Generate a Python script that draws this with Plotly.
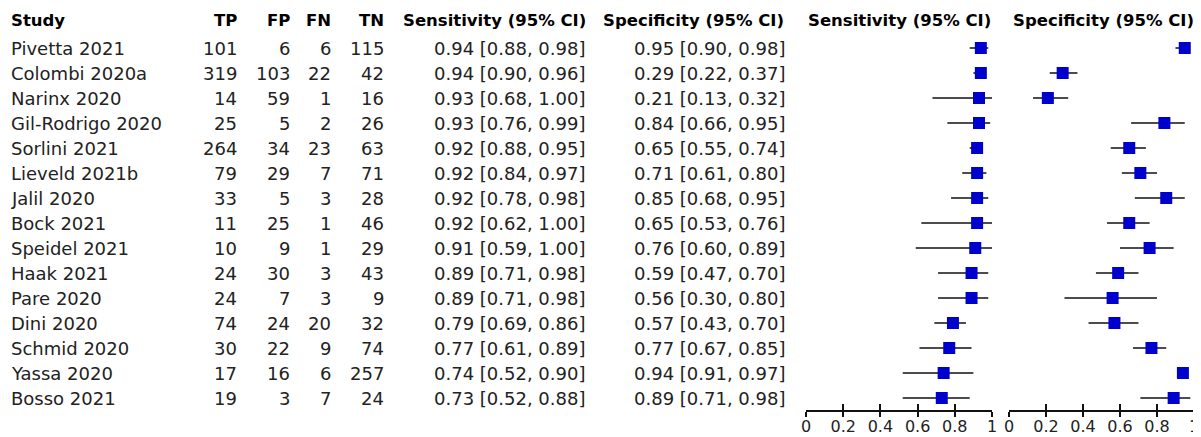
import plotly.graph_objects as go

studies = ["Pivetta 2021", "Colombi 2020a", "Narinx 2020", "Gil-Rodrigo 2020", "Sorlini 2021",
           "Lieveld 2021b", "Jalil 2020", "Bock 2021", "Speidel 2021", "Haak 2021",
           "Pare 2020", "Dini 2020", "Schmid 2020", "Yassa 2020", "Bosso 2021"]
tp = [101, 319, 14, 25, 264, 79, 33, 11, 10, 24, 24, 74, 30, 17, 19]
fp = [6, 103, 59, 5, 34, 29, 5, 25, 9, 30, 7, 24, 22, 16, 3]
fn = [6, 22, 1, 2, 23, 7, 3, 1, 1, 3, 3, 20, 9, 6, 7]
tn = [115, 42, 16, 26, 63, 71, 28, 46, 29, 43, 9, 32, 74, 257, 24]
sens = [0.94, 0.94, 0.93, 0.93, 0.92, 0.92, 0.92, 0.92, 0.91, 0.89, 0.89, 0.79, 0.77, 0.74, 0.73]
sens_lo = [0.88, 0.90, 0.68, 0.76, 0.88, 0.84, 0.78, 0.62, 0.59, 0.71, 0.71, 0.69, 0.61, 0.52, 0.52]
sens_hi = [0.98, 0.96, 1.00, 0.99, 0.95, 0.97, 0.98, 1.00, 1.00, 0.98, 0.98, 0.86, 0.89, 0.90, 0.88]
spec = [0.95, 0.29, 0.21, 0.84, 0.65, 0.71, 0.85, 0.65, 0.76, 0.59, 0.56, 0.57, 0.77, 0.94, 0.89]
spec_lo = [0.90, 0.22, 0.13, 0.66, 0.55, 0.61, 0.68, 0.53, 0.60, 0.47, 0.30, 0.43, 0.67, 0.91, 0.71]
spec_hi = [0.98, 0.37, 0.32, 0.95, 0.74, 0.80, 0.95, 0.76, 0.89, 0.70, 0.80, 0.70, 0.85, 0.97, 0.98]
tick_vals = [0, 0.2, 0.4, 0.6, 0.8, 1]
tick_text = ["0", "0.2", "0.4", "0.6", "0.8", "1"]

# page has an 8px body margin: the figure starts at (8, 8) in the window
OX, OY = 8, 8
W, H = 1201 - OX, 437 - OY
FONT = "DejaVu Sans"
FS = 18
HFS = 16.5
TXT = "#222222"

rows = list(range(len(studies)))

fig = go.Figure()

def forest(x, lo, hi, xa):
    fig.add_trace(go.Scatter(
        x=x, y=rows, mode="markers", xaxis=xa, yaxis="y",
        marker=dict(symbol="square", size=12, color="#0000cc", line=dict(width=0)),
        error_x=dict(type="data", symmetric=False,
                     array=[h - v for h, v in zip(hi, x)],
                     arrayminus=[v - l for v, l in zip(x, lo)],
                     width=0, thickness=1.5, color="#111111"),
        showlegend=False, hoverinfo="skip"))

forest(sens, sens_lo, sens_hi, "x")
forest(spec, spec_lo, spec_hi, "x2")

ROW0, STEP = 48, 25          # window pixel of first row, row spacing
ybottom = 410                # window pixel of axis line

def px(p):
    return (p - OX) / W

def rowv(py):
    return (py - ROW0) / STEP

ydom0 = 1 - (ybottom - OY) / H
v_bottom = rowv(ybottom)
v_top = rowv(OY)

axis_common = dict(range=[0, 1], tickvals=tick_vals, ticktext=tick_text, automargin=False,
                   showgrid=False, zeroline=False, showline=True, linecolor="#111111",
                   linewidth=1.5, ticks="outside", ticklen=5, tickwidth=1.5, tickcolor="#111111",
                   ticklabelstandoff=-4,
                   tickfont=dict(family=FONT, size=16, color=TXT), anchor="y", fixedrange=True)
inner_common = dict(range=[0, 1], tickvals=tick_vals, showticklabels=False, automargin=False,
                    showgrid=False, zeroline=False, showline=False,
                    ticks="inside", ticklen=6, tickwidth=1.5, tickcolor="#111111", anchor="y",
                    fixedrange=True)

fig.update_layout(
    width=W, height=H, margin=dict(l=0, r=0, t=0, b=0, pad=0, autoexpand=False),
    plot_bgcolor="white", paper_bgcolor="white",
    xaxis=dict(domain=[px(806), px(992)], **axis_common),
    xaxis2=dict(domain=[px(1009), px(1194)], **axis_common),
    xaxis3=dict(domain=[px(806), px(992)], overlaying="x", **inner_common),
    xaxis4=dict(domain=[px(1009), px(1194)], overlaying="x2", **inner_common),
    yaxis=dict(domain=[ydom0, 1], range=[v_bottom, v_top], visible=False, fixedrange=True,
               automargin=False),
)
for xa in ["x3", "x4"]:
    fig.add_trace(go.Scatter(x=[None], y=[None], xaxis=xa, yaxis="y", showlegend=False))

anns = []
def txt(xp, y, s, anchor, bold=False, color=TXT, size=FS):
    anns.append(dict(x=px(xp), y=y, xref="paper", yref="y", text=("<b>%s</b>" % s) if bold else s,
                     showarrow=False, xanchor=anchor, yanchor="middle", borderpad=0,
                     font=dict(family=FONT, size=size, color=color)))

hy = rowv(20)
txt(10, hy, "Study", "left", True, "#000", HFS)
txt(238, hy, "TP", "right", True, "#000", HFS)
txt(291, hy, "FP", "right", True, "#000", HFS)
txt(332, hy, "FN", "right", True, "#000", HFS)
txt(385, hy, "TN", "right", True, "#000", HFS)
txt(587, hy, "Sensitivity (95% CI)", "right", True, "#000", HFS)
txt(785, hy, "Specificity (95% CI)", "right", True, "#000", HFS)
txt(807, hy, "Sensitivity (95% CI)", "left", True, "#000", HFS)
txt(1195, hy, "Specificity (95% CI)", "right", True, "#000", HFS)

for i in rows:
    txt(10, i, studies[i], "left")
    txt(238, i, str(tp[i]), "right")
    txt(291, i, str(fp[i]), "right")
    txt(332, i, str(fn[i]), "right")
    txt(385, i, str(tn[i]), "right")
    txt(586, i, "%.2f [%.2f, %.2f]" % (sens[i], sens_lo[i], sens_hi[i]), "right")
    txt(786, i, "%.2f [%.2f, %.2f]" % (spec[i], spec_lo[i], spec_hi[i]), "right")

fig.update_layout(annotations=anns)
fig.write_html("out.html")
